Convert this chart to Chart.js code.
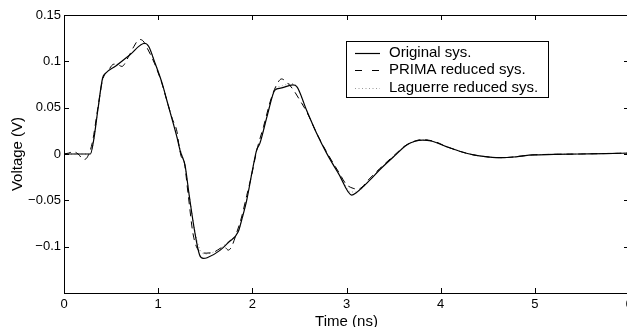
<!DOCTYPE html>
<html>
<head>
<meta charset="utf-8">
<script src="https://cdn.jsdelivr.net/npm/chart.js@4.4.0/dist/chart.umd.min.js"></script>
<style>
  html, body { margin: 0; padding: 0; background: #fff; overflow: hidden; }
  #wrap { width: 627px; height: 327px; overflow: hidden; }
</style>
</head>
<body>
<div id="wrap"><canvas id="voltageChart" width="640" height="331"></canvas></div>
<script>
// time axis (ns) and voltage (V)
const tOriginal = [0, 0.28, 0.315, 0.36, 0.41, 0.44, 0.55, 0.70, 0.857, 0.90, 0.96, 1.04, 1.10, 1.16, 1.20, 1.235, 1.26, 1.285, 1.33, 1.39, 1.44, 1.48, 1.52, 1.656, 1.75, 1.85, 1.89, 1.94, 2.0, 2.045, 2.08, 2.16, 2.24, 2.30, 2.43, 2.47, 2.575, 2.68, 2.79, 2.92, 3.055, 3.10, 3.25, 3.35, 3.50, 3.64, 3.72, 3.81, 3.90, 4.06, 4.20, 4.35, 4.50, 4.65, 4.80, 4.98, 5.20, 5.48, 5.75, 6.0];
const vOriginal = [0, 0, 0.015, 0.048, 0.082, 0.087, 0.095, 0.107, 0.1195, 0.116, 0.1, 0.077, 0.055, 0.033, 0.018, 0.003, -0.004, -0.012, -0.045, -0.085, -0.109, -0.1127, -0.112, -0.104, -0.095, -0.084, -0.07, -0.05, -0.018, 0.004, 0.0115, 0.042, 0.069, 0.071, 0.0745, 0.073, 0.0475, 0.023, 0.0007, -0.022, -0.0443, -0.042, -0.028, -0.0173, -0.003, 0.0097, 0.0135, 0.015, 0.014, 0.008, 0.003, -0.001, -0.003, -0.004, -0.003, -0.001, -0.0005, 0, 0.0005, 0.001];

const tPrima = [0, 0.05, 0.10, 0.15, 0.21, 0.25, 0.30, 0.36, 0.41, 0.47, 0.53, 0.58, 0.615, 0.68, 0.74, 0.80, 0.84, 0.88, 0.96, 1.04, 1.10, 1.15, 1.20, 1.22, 1.25, 1.27, 1.32, 1.37, 1.43, 1.51, 1.60, 1.656, 1.70, 1.745, 1.78, 1.83, 1.886, 1.94, 1.99, 2.05, 2.12, 2.20, 2.26, 2.31, 2.36, 2.43, 2.505, 2.58, 2.68, 2.79, 2.92, 3.00, 3.07, 3.12, 3.25, 3.35, 3.50, 3.64, 3.81, 3.95, 4.06, 4.20, 4.35, 4.65, 4.98, 5.48, 6.0];
const vPrima = [0, 0.001, 0.0025, 0, -0.006, -0.003, 0.012, 0.05, 0.08, 0.09, 0.097, 0.096, 0.0945, 0.104, 0.1156, 0.1236, 0.122, 0.115, 0.098, 0.076, 0.055, 0.038, 0.024, 0.01, -0.004, -0.006, -0.045, -0.086, -0.104, -0.107, -0.1055, -0.102, -0.1, -0.1037, -0.1, -0.086, -0.068, -0.045, -0.024, 0.005, 0.03, 0.06, 0.075, 0.081, 0.078, 0.07, 0.058, 0.045, 0.023, 0.002, -0.02, -0.033, -0.037, -0.038, -0.026, -0.016, -0.002, 0.01, 0.0155, 0.013, 0.008, 0.003, -0.001, -0.004, -0.001, 0, 0.001];

const tLaguerre = [0, 0.28, 0.315, 0.36, 0.41, 0.45, 0.55, 0.70, 0.85, 0.90, 0.96, 1.04, 1.10, 1.16, 1.20, 1.24, 1.28, 1.33, 1.39, 1.44, 1.49, 1.56, 1.656, 1.75, 1.85, 1.89, 1.94, 2.0, 2.045, 2.08, 2.16, 2.24, 2.30, 2.42, 2.47, 2.575, 2.68, 2.79, 2.92, 3.05, 3.10, 3.25, 3.35, 3.50, 3.64, 3.81, 3.90, 4.06, 4.20, 4.35, 4.65, 4.98, 5.48, 6.0];
const vLaguerre = [0, 0, 0.014, 0.047, 0.08, 0.088, 0.095, 0.107, 0.119, 0.116, 0.1, 0.077, 0.055, 0.034, 0.019, 0.003, -0.01, -0.044, -0.083, -0.102, -0.108, -0.107, -0.102, -0.094, -0.084, -0.069, -0.049, -0.017, 0.004, 0.012, 0.043, 0.07, 0.073, 0.076, 0.073, 0.047, 0.023, 0.001, -0.021, -0.041, -0.041, -0.028, -0.017, -0.003, 0.0097, 0.015, 0.014, 0.008, 0.003, -0.001, -0.004, -0.001, 0, 0.001];

const seriesNames = ["Original sys.", "PRIMA reduced sys.", "Laguerre reduced sys."];

const xTickValues = [0, 1, 2, 3, 4, 5, 6];
const xTickLabels = ["0", "1", "2", "3", "4", "5", "6"];
const yTickValues = [-0.15, -0.1, -0.05, 0, 0.05, 0.1, 0.15];
const yTickLabels = ["", "\u22120.1", "\u22120.05", "0", "0.05", "0.1", "0.15"];

const FONT = "'Liberation Sans', Arial, Helvetica, sans-serif";

function toPoints(ts, vs) {
  return ts.map((t, i) => ({ x: t, y: vs[i] }));
}

// frame box, inward ticks on all four sides, and the legend inside the plot
const matlabFrame = {
  id: "matlabFrame",
  afterDatasetsDraw(chart) {
    const { ctx, chartArea: a, scales } = chart;
    const len = 5;
    ctx.save();
    ctx.strokeStyle = "#000";
    ctx.lineWidth = 1;
    ctx.beginPath();
    ctx.rect(Math.round(a.left) + 0.5, Math.round(a.top) + 0.5,
      Math.round(a.right - a.left), Math.round(a.bottom - a.top));
    ctx.stroke();
    ctx.beginPath();
    xTickValues.forEach((v) => {
      const px = Math.round(scales.x.getPixelForValue(v)) + 0.5;
      ctx.moveTo(px, a.bottom); ctx.lineTo(px, a.bottom - len);
      ctx.moveTo(px, a.top); ctx.lineTo(px, a.top + len);
    });
    yTickValues.forEach((v) => {
      const py = Math.round(scales.y.getPixelForValue(v)) + 0.5;
      ctx.moveTo(a.left, py); ctx.lineTo(a.left + len, py);
      ctx.moveTo(a.right, py); ctx.lineTo(a.right - len, py);
    });
    ctx.stroke();
    ctx.restore();
  },
  afterDraw(chart) {
    const { ctx } = chart;
    const box = { x: 346.5, y: 41.5, w: 202, h: 56 };
    const sampleDash = [[], [7, 10], [1, 2.5]];
    ctx.save();
    ctx.fillStyle = "#fff";
    ctx.fillRect(box.x, box.y, box.w, box.h);
    ctx.strokeStyle = "#000";
    ctx.lineWidth = 1;
    ctx.strokeRect(box.x, box.y, box.w, box.h);
    ctx.font = "15px " + FONT;
    ctx.textBaseline = "middle";
    chart.data.datasets.forEach((ds, i) => {
      const y = 52.5 + i * 17.5;
      ctx.beginPath();
      ctx.setLineDash(sampleDash[i]);
      ctx.strokeStyle = ds.borderColor;
      ctx.lineWidth = ds.borderWidth;
      ctx.moveTo(355, Math.round(y) + 0.5);
      ctx.lineTo(380, Math.round(y) + 0.5);
      ctx.stroke();
      ctx.setLineDash([]);
      ctx.fillStyle = "#000";
      ctx.fillText(ds.label, 389, y);
    });
    ctx.restore();
  },
};

const ctx = document.getElementById("voltageChart").getContext("2d");

new Chart(ctx, {
  type: "line",
  data: {
    datasets: [
      {
        label: seriesNames[0],
        data: toPoints(tOriginal, vOriginal),
        borderColor: "#000",
        borderWidth: 1.2,
        borderDash: [],
      },
      {
        label: seriesNames[1],
        data: toPoints(tPrima, vPrima),
        borderColor: "#000",
        borderWidth: 1,
        borderDash: [7, 5],
      },
      {
        label: seriesNames[2],
        data: toPoints(tLaguerre, vLaguerre),
        borderColor: "#9a9a9a",
        borderWidth: 1,
        borderDash: [1, 2.5],
      },
    ],
  },
  options: {
    responsive: false,
    animation: false,
    elements: {
      point: { radius: 0 },
      line: { cubicInterpolationMode: "monotone", fill: false },
    },
    layout: { padding: { top: 15, right: 11, left: 0, bottom: 0 } },
    plugins: {
      legend: { display: false },
      tooltip: { enabled: false },
    },
    scales: {
      x: {
        type: "linear",
        min: 0,
        max: 6,
        grid: { display: false, drawTicks: false },
        border: { display: false },
        afterBuildTicks(scale) {
          scale.ticks = xTickValues.map((v) => ({ value: v }));
        },
        afterFit(scale) {
          scale.height = 38;
        },
        ticks: {
          padding: 4,
          color: "#000",
          font: { family: FONT, size: 13 },
          maxRotation: 0,
          callback: (v) => xTickLabels[xTickValues.indexOf(v)],
        },
        title: {
          display: true,
          text: "Time (ns)",
          color: "#000",
          font: { family: FONT, size: 15 },
          padding: { top: 0, bottom: 0 },
        },
      },
      y: {
        min: -0.15,
        max: 0.15,
        grid: { display: false, drawTicks: false },
        border: { display: false },
        afterBuildTicks(scale) {
          scale.ticks = yTickValues.map((v) => ({ value: v }));
        },
        afterFit(scale) {
          scale.width = 64;
        },
        ticks: {
          padding: 3,
          color: "#000",
          font: { family: FONT, size: 13 },
          callback: (v) => yTickLabels[yTickValues.findIndex((t) => Math.abs(t - v) < 1e-9)],
        },
        title: {
          display: true,
          text: "Voltage (V)",
          color: "#000",
          font: { family: FONT, size: 15 },
          padding: { top: 9, bottom: 0 },
        },
      },
    },
  },
  plugins: [matlabFrame],
});
</script>
</body>
</html>
